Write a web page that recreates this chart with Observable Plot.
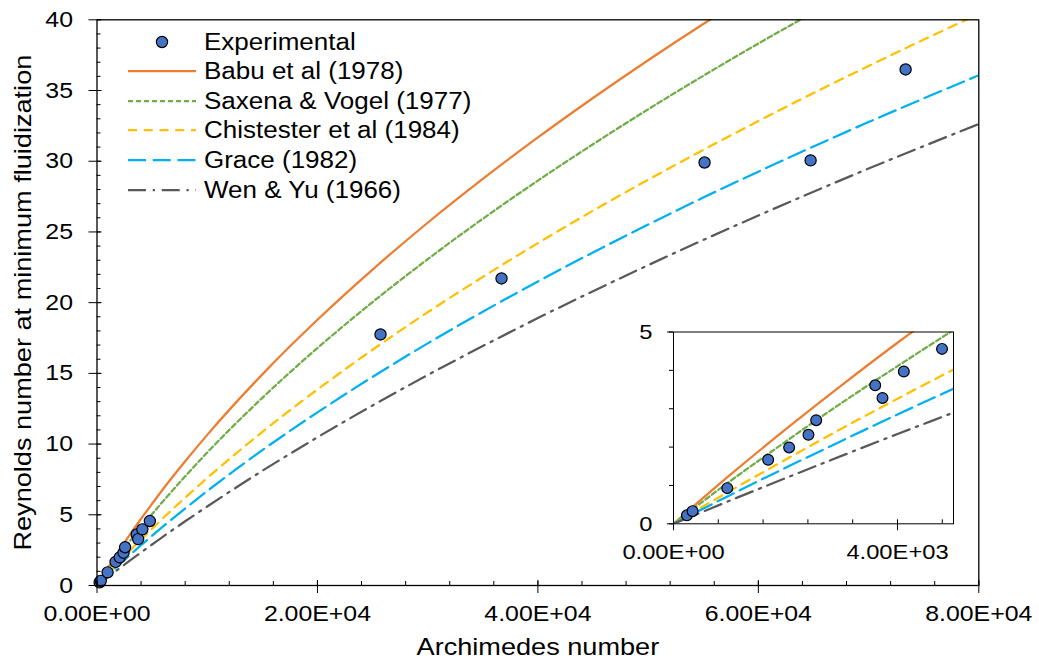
<!DOCTYPE html>
<html><head><meta charset="utf-8">
<script src="https://cdn.jsdelivr.net/npm/d3@7"></script>
<script src="https://cdn.jsdelivr.net/npm/@observablehq/plot@0.6"></script>
<style>
body{margin:0;background:#fff;}
#wrap{position:relative;width:1039px;height:669px;font-family:"Liberation Sans",Arial,sans-serif;overflow:hidden;}
#wrap > svg, #wrap > figure{position:absolute;margin:0;}
.legend-row{position:absolute;height:30px;width:400px;}
.legend-row svg{position:absolute;left:0;top:0;}
.legend-row span{position:absolute;left:84px;top:0;line-height:30px;font-size:23px;transform:scaleX(1.13);transform-origin:left center;white-space:nowrap;color:#000;}
</style></head><body><div id="wrap"></div>
<script>
// ---------- data ----------
const arGrid      = [0, 1000, 2000, 3000, 4000, 5000, 6000, 8000, 10000, 15000, 20000, 25000, 30000, 35000, 40000, 45000, 50000, 55000, 60000, 65000, 70000, 75000, 80000];
const reBabu      = [0, 1.26, 2.46, 3.61, 4.72, 5.78, 6.82, 8.78, 10.65, 14.93, 18.79, 22.34, 25.65, 28.75, 31.68, 34.47, 37.14, 39.70, 42.16, 44.53, 46.82, 49.05, 51.21];
const reSaxena    = [0, 1.10, 2.14, 3.15, 4.11, 5.05, 5.96, 7.72, 9.40, 13.27, 16.79, 20.04, 23.07, 25.93, 28.63, 31.20, 33.67, 36.04, 38.32, 40.52, 42.65, 44.71, 46.72];
const reChitester = [0, 0.85, 1.67, 2.48, 3.26, 4.02, 4.77, 6.21, 7.60, 10.86, 13.86, 16.67, 19.32, 21.82, 24.21, 26.50, 28.69, 30.80, 32.84, 34.82, 36.73, 38.60, 40.41];
const reGrace     = [0, 0.74, 1.46, 2.16, 2.85, 3.52, 4.18, 5.45, 6.68, 9.57, 12.24, 14.75, 17.12, 19.36, 21.50, 23.55, 25.52, 27.43, 29.26, 31.04, 32.77, 34.44, 36.08];
const reWenYu     = [0, 0.60, 1.19, 1.77, 2.34, 2.90, 3.46, 4.54, 5.59, 8.11, 10.48, 12.73, 14.88, 16.93, 18.91, 20.81, 22.65, 24.43, 26.16, 27.84, 29.48, 31.07, 32.63];

const expAr = [240, 340, 960, 1690, 2065, 2410, 2548, 3602, 3732, 4113, 4795, 25720, 36700, 55120, 64740, 73360];
const expRe = [0.22, 0.33, 0.93, 1.67, 1.99, 2.32, 2.70, 3.61, 3.28, 3.97, 4.56, 17.75, 21.71, 29.91, 30.06, 36.49];

const seriesNames  = ["Babu et al (1978)", "Saxena & Vogel (1977)", "Chistester et al (1984)", "Grace (1982)", "Wen & Yu (1966)"];
const expName      = "Experimental";
const xLabel = "Archimedes number";
const yLabel = "Reynolds number at minimum fluidization";

const xMajorTicks = [0, 20000, 40000, 60000, 80000];
const xTickLabels = ["0.00E+00", "2.00E+04", "4.00E+04", "6.00E+04", "8.00E+04"];
const xMinorTicks = d3.range(0, 80001, 4000);
const yMajorTicks = [0, 5, 10, 15, 20, 25, 30, 35, 40];
const yTickLabels = ["0", "5", "10", "15", "20", "25", "30", "35", "40"];
const yMinorTicks = d3.range(0, 41, 1);

const insetXMajor = [0, 4000];
const insetXLabels = ["0.00E+00", "4.00E+03"];
const insetXMinor = [800, 1600, 2400, 3200, 4000, 4800];
const insetYMajor = [0, 5];
const insetYLabels = ["0", "5"];
const insetYMinor = [0, 1, 2, 3, 4, 5];

// ---------- styles ----------
const seriesValues = [reBabu, reSaxena, reChitester, reGrace, reWenYu];
const seriesColors = ["#ED7D31", "#70AD47", "#FFC000", "#00B0F0", "#595959"];
const seriesDash   = [undefined, "5,3", "9,6.75", "18,6.75", "18,6.75,2.25,6.75"];
const dotFill = "#4472C4";
const FONT = '"Liberation Sans", Arial, sans-serif';
const STRETCH = 1.13;

const expData = expAr.map((a, i) => ({ar: a, re: expRe[i]}));

function lineMarks() {
  return seriesNames.map((name, s) => Plot.line(
    arGrid.map((a, i) => ({ar: a, re: seriesValues[s][i]})),
    {x: "ar", y: "re", stroke: seriesColors[s], strokeWidth: 2.25,
     strokeDasharray: seriesDash[s], curve: "monotone-x", clip: true}
  ));
}
const blank = () => "";

const main = Plot.plot({
  width: 1039, height: 669,
  marginTop: 19.3, marginRight: 60.7, marginBottom: 84, marginLeft: 96.5,
  style: {fontFamily: FONT, fontSize: "22px", color: "black", background: "transparent", overflow: "visible"},
  x: {domain: [0, 80000]},
  y: {domain: [0, 40]},
  marks: [
    ...lineMarks(),
    Plot.dot(expData, {x: "ar", y: "re", r: 5.6, fill: dotFill, stroke: "black", strokeWidth: 1.2}),
    Plot.frame({stroke: "black", strokeWidth: 1.3}),
    Plot.axisX({ticks: xMinorTicks, tickSize: -4, tickFormat: blank, label: null}),
    Plot.axisX({ticks: xMajorTicks, tickSize: -5, tickFormat: blank, label: null}),
    Plot.axisX({ticks: xMajorTicks, tickSize: 8, tickPadding: 12, tickFormat: d => xTickLabels[xMajorTicks.indexOf(d)], label: null}),
    Plot.axisY({ticks: yMinorTicks, tickSize: -4, tickFormat: blank, label: null}),
    Plot.axisY({ticks: yMajorTicks, tickSize: -5, tickFormat: blank, label: null}),
    Plot.axisY({ticks: yMajorTicks, tickSize: 8, tickPadding: 16, tickFormat: d => yTickLabels[yMajorTicks.indexOf(d)], label: null}),
    Plot.text([xLabel], {frameAnchor: "bottom", dy: 69, fontSize: 24, textAnchor: "middle", text: d => d}),
    Plot.text([yLabel], {frameAnchor: "left", dx: -74, rotate: -90, fontSize: 24, textAnchor: "middle", lineAnchor: "middle", text: d => d})
  ]
});

const inset = Plot.plot({
  width: 340, height: 260,
  marginLeft: 53, marginRight: 7, marginTop: 21.5, marginBottom: 46.7,
  style: {fontFamily: FONT, fontSize: "21px", color: "black", background: "transparent", overflow: "visible"},
  x: {domain: [0, 5000]},
  y: {domain: [0, 5]},
  marks: [
    Plot.frame({fill: "white"}),
    ...lineMarks(),
    Plot.dot(expData.filter(d => d.ar <= 5000), {x: "ar", y: "re", r: 5.4, fill: dotFill, stroke: "black", strokeWidth: 1.2}),
    Plot.frame({stroke: "black", strokeWidth: 1}),
    Plot.axisX({ticks: insetXMinor, tickSize: -4, tickFormat: blank, label: null}),
    Plot.axisX({ticks: insetXMajor, tickSize: 7, tickPadding: 13, tickFormat: d => insetXLabels[insetXMajor.indexOf(d)], label: null}),
    Plot.axisY({ticks: insetYMinor, tickSize: 4, tickFormat: blank, label: null}),
    Plot.axisY({ticks: insetYMajor, tickSize: 6, tickPadding: 15, tickFormat: d => insetYLabels[insetYMajor.indexOf(d)], label: null})
  ]
});

const wrap = document.getElementById("wrap");
main.style.left = "0px"; main.style.top = "0px";
inset.style.left = "620px"; inset.style.top = "310px";
wrap.appendChild(main);
wrap.appendChild(inset);

// legend
const legendNames = [expName, ...seriesNames];
const legendY = [41.5, 71, 100.5, 130, 160, 190];
const ns = "http://www.w3.org/2000/svg";
legendNames.forEach((name, i) => {
  const row = document.createElement("div");
  row.className = "legend-row";
  row.style.left = "120px";
  row.style.top = (legendY[i] - 15) + "px";
  const svg = document.createElementNS(ns, "svg");
  svg.setAttribute("width", 80); svg.setAttribute("height", 30);
  if (i === 0) {
    const c = document.createElementNS(ns, "circle");
    c.setAttribute("cx", 42); c.setAttribute("cy", 15); c.setAttribute("r", 5.6);
    c.setAttribute("fill", dotFill); c.setAttribute("stroke", "black"); c.setAttribute("stroke-width", 1.2);
    svg.appendChild(c);
  } else {
    const s = i - 1;
    const l = document.createElementNS(ns, "line");
    l.setAttribute("x1", 8); l.setAttribute("x2", 76); l.setAttribute("y1", 15); l.setAttribute("y2", 15);
    l.setAttribute("stroke", seriesColors[s]); l.setAttribute("stroke-width", 2.25);
    if (seriesDash[s]) l.setAttribute("stroke-dasharray", seriesDash[s]);
    svg.appendChild(l);
  }
  row.appendChild(svg);
  const sp = document.createElement("span");
  sp.textContent = name;
  row.appendChild(sp);
  wrap.appendChild(row);
});

// widen glyphs slightly to match the reference's text proportions
function stretchText(root) {
  root.querySelectorAll("text").forEach(t => {
    const len = t.getComputedTextLength();
    if (len > 0) {
      t.setAttribute("textLength", (len * STRETCH).toFixed(2));
      t.setAttribute("lengthAdjust", "spacingAndGlyphs");
    }
  });
}
stretchText(main);
stretchText(inset);
</script>
</body></html>
